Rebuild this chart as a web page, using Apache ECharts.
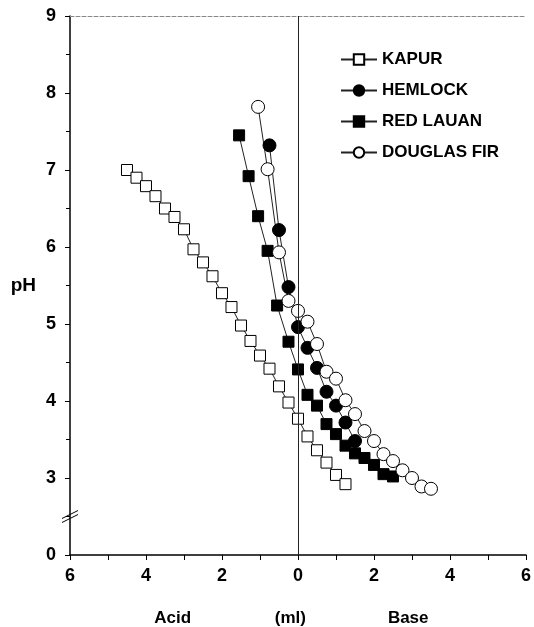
<!DOCTYPE html>
<head>
    <meta charset="utf-8">
    <title>pH titration</title>
    <style>
        html, body { margin: 0; padding: 0; background: #fff; }
    </style>
</head>
<body>
    <script src="https://cdn.jsdelivr.net/npm/echarts@6/dist/echarts.min.js"></script>
    <div id="main" style="width:534px;height:627px"></div>
    <script type="text/javascript">
    // 数据 (ml: 负数 = 酸, 正数 = 碱)
    var kapurX = [-4.5, -4.25, -4.0, -3.75, -3.5, -3.25, -3.0, -2.75, -2.5, -2.25, -2.0, -1.75,
                  -1.5, -1.25, -1.0, -0.75, -0.5, -0.25, 0, 0.25, 0.5, 0.75, 1.0, 1.25];
    var kapurPH = [7.00, 6.90, 6.79, 6.66, 6.50, 6.39, 6.23, 5.97, 5.80, 5.62, 5.40, 5.22,
                   4.98, 4.78, 4.59, 4.42, 4.19, 3.98, 3.77, 3.54, 3.36, 3.20, 3.04, 2.92];

    var hemlockX = [-0.75, -0.5, -0.25, 0, 0.25, 0.5, 0.75, 1.0, 1.25, 1.5];
    var hemlockPH = [7.32, 6.22, 5.48, 4.96, 4.69, 4.43, 4.12, 3.94, 3.72, 3.48];

    var lauanX = [-1.55, -1.3, -1.05, -0.8, -0.55, -0.25, 0, 0.25, 0.5, 0.75, 1.0, 1.25,
                  1.5, 1.75, 2.0, 2.25, 2.5];
    var lauanPH = [7.45, 6.92, 6.40, 5.95, 5.24, 4.77, 4.41, 4.08, 3.94, 3.70, 3.57, 3.42,
                   3.32, 3.26, 3.17, 3.05, 3.02];

    var firX = [-1.05, -0.8, -0.5, -0.25, 0, 0.25, 0.5, 0.75, 1.0, 1.25, 1.5, 1.75, 2.0,
                2.25, 2.5, 2.75, 3.0, 3.25, 3.5];
    var firPH = [7.82, 7.01, 5.93, 5.30, 5.17, 5.03, 4.74, 4.38, 4.29, 4.01, 3.83, 3.61, 3.48,
                 3.31, 3.22, 3.10, 3.00, 2.89, 2.86];

    var names = ['KAPUR', 'HEMLOCK', 'RED LAUAN', 'DOUGLAS FIR'];

    function pairs(xs, ys) {
        var out = [];
        for (var i = 0; i < xs.length; i++) {
            out.push([xs[i], ys[i]]);
        }
        return out;
    }

    var font = 'Liberation Sans, Arial, sans-serif';
    var openStyle = { color: '#fff', borderColor: '#000', borderWidth: 1 };
    var fillStyle = { color: '#000', borderColor: '#000', borderWidth: 1 };
    var lineStyle = { color: '#222', width: 1 };

    var myChart = echarts.init(document.getElementById('main'));
    myChart.setOption({
        animation: false,
        backgroundColor: '#fff',
        grid: { left: 70, right: 8, top: 16, bottom: 72 },
        legend: {
            orient: 'vertical',
            left: 335,
            top: 46,
            itemWidth: 36,
            itemHeight: 13,
            itemGap: 14,
            data: names,
            textStyle: { fontFamily: font, fontWeight: 'bold', fontSize: 17, color: '#000' }
        },
        xAxis: [{
            type: 'value',
            min: -6, max: 6, interval: 1,
            axisLine: { onZero: false, lineStyle: { color: '#000', width: 1.5 } },
            axisTick: { length: 5, lineStyle: { color: '#000' } },
            axisLabel: {
                margin: 12,
                formatter: function (v) { return v % 2 === 0 ? Math.abs(v) : ''; },
                fontFamily: font, fontWeight: 'bold', fontSize: 18, color: '#000'
            },
            splitLine: { show: false }
        }, {
            type: 'value', position: 'top',
            min: -6, max: 6,
            axisLine: { show: true, lineStyle: { color: '#888', type: 'dashed', width: 1 } },
            axisTick: { show: false }, axisLabel: { show: false }, splitLine: { show: false }
        }],
        yAxis: [{
            type: 'value',
            min: 2, max: 9, interval: 1,
            name: 'pH',
            nameLocation: 'middle',
            nameRotate: 0,
            nameGap: 34,
            nameTextStyle: { fontFamily: font, fontWeight: 'bold', fontSize: 19, color: '#000' },
            axisLine: { onZero: false, lineStyle: { color: '#000', width: 1.5 } },
            axisTick: { length: 5, lineStyle: { color: '#000' } },
            minorTick: { show: true, splitNumber: 2, length: 4, lineStyle: { color: '#000' } },
            axisLabel: {
                margin: 14,
                formatter: function (v) { return v === 2 ? '0' : v; },
                fontFamily: font, fontWeight: 'bold', fontSize: 18, color: '#000'
            },
            splitLine: { show: false }
        }, {
            type: 'value', position: 'right',
            min: 2, max: 9,
            axisLine: { show: true, lineStyle: { color: '#888', type: 'dashed', width: 1 } },
            axisTick: { show: false }, axisLabel: { show: false }, splitLine: { show: false }
        }],
        series: [
            {
                name: names[0], type: 'line', data: pairs(kapurX, kapurPH),
                symbol: 'rect', symbolSize: 11, itemStyle: openStyle, lineStyle: lineStyle,
                markLine: {
                    silent: true, symbol: 'none', label: { show: false },
                    lineStyle: { color: '#222', type: 'solid', width: 1 },
                    data: [{ xAxis: 0 }]
                }
            },
            {
                name: names[1], type: 'line', data: pairs(hemlockX, hemlockPH),
                symbol: 'circle', symbolSize: 13, itemStyle: fillStyle, lineStyle: lineStyle
            },
            {
                name: names[2], type: 'line', data: pairs(lauanX, lauanPH),
                symbol: 'rect', symbolSize: 11, itemStyle: fillStyle, lineStyle: lineStyle
            },
            {
                name: names[3], type: 'line', data: pairs(firX, firPH),
                symbol: 'circle', symbolSize: 13, itemStyle: openStyle, lineStyle: lineStyle
            }
        ]
    });

    // 轴断裂标记 和 底部文字
    var bx = myChart.convertToPixel({ xAxisIndex: 0 }, -6);
    var by = myChart.convertToPixel({ yAxisIndex: 0 }, 2.5);
    var txt = { fontFamily: font, fontWeight: 'bold', fontSize: 17, fill: '#000' };
    function label(x, s) {
        return { type: 'text', x: x, y: 618, style: echarts.util.extend({ text: s, align: 'center', verticalAlign: 'middle' }, txt) };
    }
    myChart.setOption({
        graphic: [
            { type: 'rect', shape: { x: bx - 3, y: by - 3, width: 6, height: 6 }, style: { fill: '#fff' } },
            { type: 'line', shape: { x1: bx - 8, y1: by + 2, x2: bx + 8, y2: by - 6 }, style: { stroke: '#000', lineWidth: 1 } },
            { type: 'line', shape: { x1: bx - 8, y1: by + 6, x2: bx + 8, y2: by - 2 }, style: { stroke: '#000', lineWidth: 1 } },
            label(myChart.convertToPixel({ xAxisIndex: 0 }, -3.3), 'Acid'),
            label(myChart.convertToPixel({ xAxisIndex: 0 }, -0.2), '(ml)'),
            label(myChart.convertToPixel({ xAxisIndex: 0 }, 2.9), 'Base')
        ]
    });
    </script>
</body>
